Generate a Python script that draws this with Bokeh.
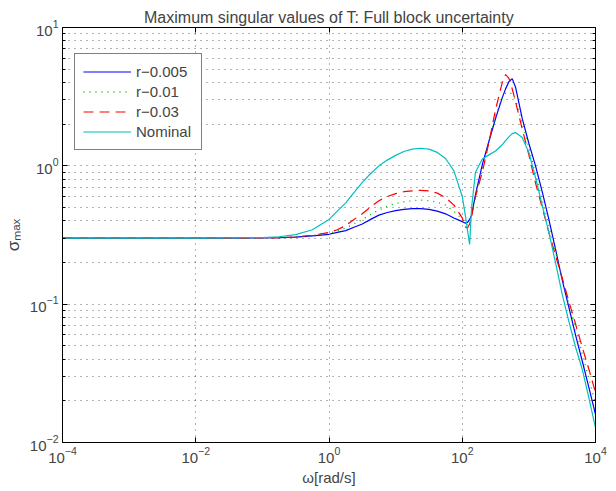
from bokeh.plotting import figure
from bokeh.models import FixedTicker, LogAxis, Legend, LegendItem, Range1d
from bokeh.embed import file_html
from bokeh.resources import INLINE

# frequency grid [rad/s]
omega = [1e-4, 1e-3, 1e-2, 0.0316, 0.1, 0.178, 0.316, 0.562, 1.0, 1.33, 1.78, 2.37,
         3.16, 4.22, 5.62, 7.50, 10.0, 13.3, 17.8, 23.7, 31.6, 42.2, 56.2, 75.0,
         100.0, 112.0, 120.0, 129.0, 138.0, 158.0, 200.0, 251.0, 316.0, 398.0, 447.0,
         501.0, 562.0, 631.0, 794.0, 1000.0, 1259.0, 1585.0, 1995.0, 2512.0, 3162.0,
         3981.0, 5012.0, 6310.0, 7943.0, 10000.0]

# maximum singular values
sv_r005 = [0.30, 0.30, 0.30, 0.30, 0.301, 0.302, 0.305, 0.312, 0.32, 0.33, 0.34, 0.36,
           0.38, 0.41, 0.44, 0.46, 0.475, 0.485, 0.49, 0.49, 0.485, 0.47, 0.45, 0.42,
           0.395, 0.385, 0.39, 0.41, 0.44, 0.62, 1.02, 1.5, 2.2, 3.1, 3.6,
           4.05, 4.27, 3.7, 2.2, 1.45, 1.0, 0.65, 0.41, 0.25, 0.15,
           0.095, 0.06, 0.039, 0.025, 0.016]
sv_r01 = [0.30, 0.30, 0.30, 0.30, 0.301, 0.302, 0.306, 0.314, 0.325, 0.338, 0.355, 0.38,
          0.41, 0.445, 0.48, 0.51, 0.535, 0.55, 0.56, 0.565, 0.56, 0.545, 0.52, 0.47,
          0.41, 0.375, 0.375, 0.40, 0.44, 0.60, 0.95, 1.5, 2.3, 3.1, 3.35,
          3.4, 3.3, 3.0, 2.05, 1.35, 0.88, 0.57, 0.37, 0.24, 0.155,
          0.1, 0.067, 0.044, 0.029, 0.019]
sv_r03 = [0.30, 0.30, 0.30, 0.30, 0.301, 0.302, 0.306, 0.315, 0.33, 0.345, 0.37, 0.41,
          0.45, 0.505, 0.56, 0.60, 0.63, 0.65, 0.66, 0.665, 0.66, 0.635, 0.59, 0.52,
          0.42, 0.36, 0.355, 0.38, 0.43, 0.60, 0.90, 1.47, 2.55, 4.0, 4.57,
          4.3, 3.6, 2.9, 1.85, 1.2, 0.75, 0.5, 0.33, 0.225, 0.155,
          0.105, 0.072, 0.049, 0.034, 0.023]
sv_nom = [0.30, 0.30, 0.30, 0.301, 0.303, 0.307, 0.318, 0.345, 0.41, 0.47, 0.54, 0.64,
          0.76, 0.88, 1.0, 1.1, 1.19, 1.27, 1.32, 1.34, 1.32, 1.25, 1.13, 0.92,
          0.6, 0.43, 0.34, 0.27, 0.5, 0.9, 1.12, 1.2, 1.28, 1.42, 1.52,
          1.62, 1.71, 1.74, 1.6, 1.25, 0.82, 0.52, 0.33, 0.2, 0.118,
          0.075, 0.049, 0.034, 0.021, 0.0128]

series_labels = ["r\u22120.005", "r\u22120.01", "r\u22120.03", "Nominal"]

x_ticks = [1e-4, 1e-2, 1.0, 1e2, 1e4]
y_ticks = [1e-2, 1e-1, 1.0, 10.0]
y_minor = [0.02, 0.03, 0.04, 0.05, 0.06, 0.07, 0.08, 0.09,
           0.2, 0.3, 0.4, 0.5, 0.6, 0.7, 0.8, 0.9,
           2.0, 3.0, 4.0, 5.0, 6.0, 7.0, 8.0, 9.0]

FONT = "Liberation Sans"

p = figure(x_axis_type="log", y_axis_type="log",
           x_range=Range1d(1e-4, 1e4), y_range=Range1d(1e-2, 1e1),
           frame_width=533, frame_height=415,
           min_border_left=54, min_border_right=12, min_border_top=27, min_border_bottom=44,
           output_backend="svg", toolbar_location=None,
           title="Maximum singular values of T: Full block uncertainty")
p.background_fill_color = "white"
p.border_fill_color = "white"
p.outline_line_color = "black"
p.outline_line_width = 1

p.title.align = "center"
p.title.text_font = FONT
p.title.text_font_size = "16px"
p.title.text_font_style = "normal"
p.title.offset = 0
p.title.standoff = 4

xt = FixedTicker(ticks=x_ticks, minor_ticks=[])
yt = FixedTicker(ticks=y_ticks, minor_ticks=y_minor)

p.xaxis.ticker = xt
p.yaxis.ticker = yt

for ax in (p.xaxis[0], p.yaxis[0]):
    ax.major_label_text_font = FONT
    ax.major_label_text_font_size = "15px"
    ax.axis_label_text_font = FONT
    ax.axis_label_text_font_size = "15px"
    ax.axis_label_text_font_style = "normal"
    ax.major_tick_in = 5
    ax.major_tick_out = 0
    ax.minor_tick_in = 3
    ax.minor_tick_out = 0
    ax.axis_line_color = "black"
    ax.major_tick_line_color = "black"
    ax.minor_tick_line_color = "black"
    ax.major_label_standoff = 4

p.xaxis.axis_label = "\u03c9[rad/s]"
p.xaxis.axis_label_standoff = 3
p.yaxis.axis_label = "\u03c3\u2098\u2090\u2093"
p.yaxis.axis_label_text_font_size = "17px"
p.yaxis.axis_label_standoff = 4

for loc, tk in (("right", yt), ("above", xt)):
    ax = LogAxis(ticker=tk)
    ax.major_label_text_font_size = "1px"
    ax.major_label_text_alpha = 0
    ax.major_label_standoff = 0
    ax.major_tick_in = 5
    ax.major_tick_out = 0
    ax.minor_tick_in = 3
    ax.minor_tick_out = 0
    ax.axis_line_color = "black"
    p.add_layout(ax, loc)

for g in (p.xgrid[0], p.ygrid[0]):
    g.grid_line_color = "black"
    g.grid_line_alpha = 0.6
    g.grid_line_dash = "1 5"
    g.grid_line_width = 1
p.ygrid[0].minor_grid_line_color = "black"
p.ygrid[0].minor_grid_line_alpha = 0.6
p.ygrid[0].minor_grid_line_dash = "1 5"
p.xgrid[0].ticker = xt
p.ygrid[0].ticker = yt

r1 = p.line(omega, sv_r005, line_color="#0000FF", line_width=1.2)
r2 = p.line(omega, sv_r01, line_color="#00B000", line_width=1.3, line_dash="1 5")
r3 = p.line(omega, sv_r03, line_color="#FF0000", line_width=1.2, line_dash="10 6")
r4 = p.line(omega, sv_nom, line_color="#00BFBF", line_width=1.2)

legend = Legend(items=[LegendItem(label=series_labels[0], renderers=[r1]),
                       LegendItem(label=series_labels[1], renderers=[r2]),
                       LegendItem(label=series_labels[2], renderers=[r3]),
                       LegendItem(label=series_labels[3], renderers=[r4])],
                location=(12, 292),
                label_text_font=FONT, label_text_font_size="15px",
                padding=8, spacing=1, glyph_width=48, glyph_height=19,
                label_height=19, label_width=57, label_standoff=5, margin=0,
                border_line_color="black", border_line_width=1,
                background_fill_color="white", background_fill_alpha=1.0)
p.add_layout(legend, "center")

open("out.html", "w").write(file_html(p, INLINE))
